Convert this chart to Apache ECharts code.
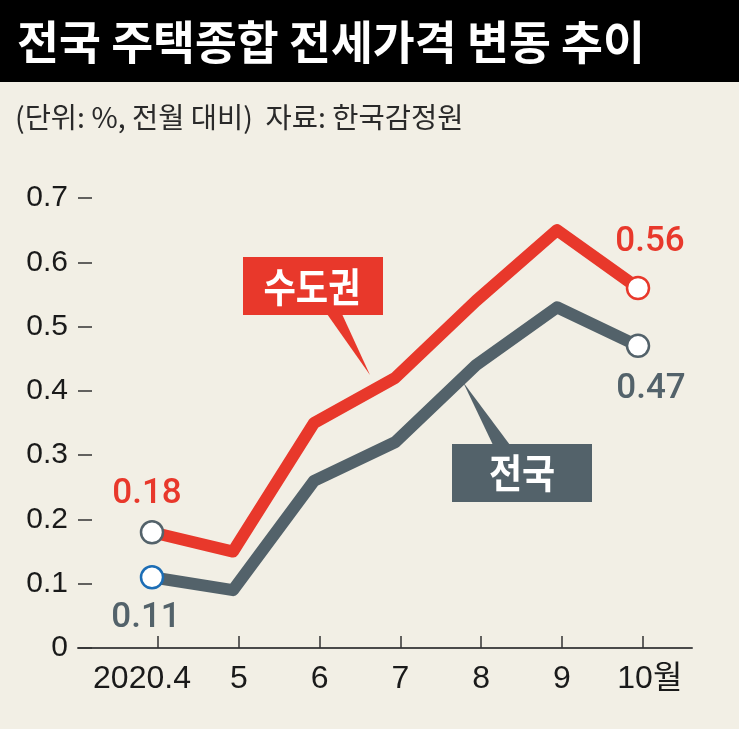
<!DOCTYPE html>
<html>
<head>
<meta charset="utf-8">
<script src="https://cdn.jsdelivr.net/npm/echarts@6/dist/echarts.min.js"></script>
<style>
html,body{margin:0;padding:0;background:#f2efe5;}
#chart{width:739px;height:729px;}
</style>
</head>
<body>
<div id="chart"></div>
<script>
// ---- data ----
var months = ['2020.4', '5', '6', '7', '8', '9', '10월'];
var capitalArea = [0.18, 0.15, 0.35, 0.42, 0.54, 0.65, 0.56];   // 수도권
var nationwide  = [0.11, 0.09, 0.26, 0.32, 0.44, 0.53, 0.47];   // 전국
var yTicks = [0, 0.1, 0.2, 0.3, 0.4, 0.5, 0.6, 0.7];

var RED = '#e8382b', GRAY = '#53626a', BLUE = '#1c6db5';
var NUM_FONT = '"Liberation Sans", Arial, sans-serif';

function buildData(values, color, ends) {
  return values.map(function (v, i) {
    var e = ends[i];
    if (!e) return { value: v, symbol: 'none' };
    return {
      value: v,
      symbol: 'circle',
      symbolSize: 22,
      itemStyle: { color: '#ffffff', borderColor: e.border, borderWidth: 2.5 },
      label: {
        show: true,
        position: e.pos,
        distance: e.dist,
        offset: e.off,
        formatter: String(v),
        color: color,
        fontFamily: 'Roboto',
        fontWeight: 500,
        fontSize: 35
      }
    };
  });
}

var redEnds = {0: {border: GRAY, pos: 'top', dist: 8, off: [-5, 0]},
               6: {border: RED, pos: 'top', dist: 16, off: [12, 0]}};
var grayEnds = {0: {border: BLUE, pos: 'bottom', dist: 11, off: [-6, 0]},
                6: {border: GRAY, pos: 'bottom', dist: 14, off: [13, 0]}};

var labelText = {color: '#1a1a1a', fontFamily: NUM_FONT + ', "Noto Sans CJK KR"', fontSize: 32};

var chart = echarts.init(document.getElementById('chart'));
var option = {
  backgroundColor: '#f2efe5',
  animation: false,
  grid: [
    {left: 111.5, right: 60.5, top: 198, bottom: 81},   // series
    {left: 78, right: 47, top: 198, bottom: 81},        // axis line + y ticks
    {left: 117.6, right: 55.8, top: 198, bottom: 81}    // x ticks + labels
  ],
  xAxis: [
    {type: 'category', gridIndex: 0, data: months, boundaryGap: true, show: false},
    {
      type: 'value', gridIndex: 1, min: 0, max: 1,
      axisLine: {show: true, lineStyle: {color: '#4a4a4a', width: 2}},
      axisTick: {show: false}, axisLabel: {show: false}, splitLine: {show: false}
    },
    {
      type: 'category', gridIndex: 2, data: months, boundaryGap: true,
      axisLine: {show: true, lineStyle: {color: 'rgba(0,0,0,0)'}},
      axisTick: {show: true, inside: true, length: 12, alignWithLabel: true, interval: 0, lineStyle: {color: '#333', width: 1.5}},
      axisLabel: {
        interval: 0, margin: 15,
        color: labelText.color, fontFamily: labelText.fontFamily, fontSize: labelText.fontSize,
        formatter: function (v, i) {
          if (i === 0) return '{l|' + v + '}';
          if (i === months.length - 1) return '{r|' + v + '}';
          return v;
        },
        rich: {
          l: {color: labelText.color, fontFamily: labelText.fontFamily, fontSize: labelText.fontSize, padding: [0, 32, 0, 0]},
          r: {color: labelText.color, fontFamily: labelText.fontFamily, fontSize: labelText.fontSize, padding: [0, 0, 0, 14]}
        }
      },
      splitLine: {show: false}
    }
  ],
  yAxis: [
    {type: 'value', gridIndex: 0, min: 0, max: 0.7, interval: 0.1, show: false},
    {
      type: 'value', gridIndex: 1, min: 0, max: 0.7, interval: 0.1,
      axisLine: {show: false},
      axisTick: {show: true, inside: true, length: 14, lineStyle: {color: '#333', width: 1.5}},
      axisLabel: {
        color: '#1a1a1a', fontFamily: NUM_FONT, fontSize: 30, margin: 10,
        formatter: function (v) {
          var m = yTicks.filter(function (t) { return Math.abs(t - v) < 1e-6; });
          return m.length ? String(m[0]) : '';
        }
      },
      splitLine: {show: false}
    },
    {type: 'value', gridIndex: 2, min: 0, max: 0.7, interval: 0.1, show: false}
  ],
  series: [
    {
      name: '수도권', type: 'line', xAxisIndex: 0, yAxisIndex: 0,
      color: RED, showSymbol: true, showAllSymbol: true, z: 3,
      lineStyle: {color: RED, width: 12, cap: 'round', join: 'round'},
      data: buildData(capitalArea, RED, redEnds)
    },
    {
      name: '전국', type: 'line', xAxisIndex: 0, yAxisIndex: 0,
      color: GRAY, showSymbol: true, showAllSymbol: true, z: 2,
      lineStyle: {color: GRAY, width: 12, cap: 'round', join: 'round'},
      data: buildData(nationwide, GRAY, grayEnds)
    }
  ],
  graphic: [
    {type: 'rect', shape: {x: 0, y: 0, width: 739, height: 82}, style: {fill: '#000'}, z: 0},
    {type: 'text', x: 17, y: 42, scaleX: 0.99,
     style: {text: '전국 주택종합 전세가격 변동 추이', fill: '#fff', fontFamily: '"Noto Sans CJK KR"', fontWeight: 'bold', fontSize: 46, verticalAlign: 'middle', align: 'left'}},
    {type: 'text', x: 15, y: 117,
     style: {text: '(단위: %, 전월 대비)  자료: 한국감정원', fill: '#2a2a2a', fontFamily: '"Noto Sans CJK KR"', fontSize: 28.5, verticalAlign: 'middle', align: 'left'}},
    // 수도권 callout
    {type: 'rect', shape: {x: 243, y: 257, width: 140, height: 58}, style: {fill: RED}, z: 5},
    {type: 'polygon', shape: {points: [[327, 314], [342, 314], [370, 375]]}, style: {fill: RED}, z: 5},
    {type: 'text', x: 312, y: 287, scaleX: 0.88, z: 6,
     style: {text: '수도권', fill: '#fff', fontFamily: '"Noto Sans CJK KR"', fontWeight: 'bold', fontSize: 40, align: 'center', verticalAlign: 'middle'}},
    // 전국 callout
    {type: 'rect', shape: {x: 452, y: 444, width: 140, height: 58}, style: {fill: GRAY}, z: 5},
    {type: 'polygon', shape: {points: [[493, 445], [510, 445], [463, 382]]}, style: {fill: GRAY}, z: 1},
    {type: 'text', x: 522, y: 473, scaleX: 0.9, z: 6,
     style: {text: '전국', fill: '#fff', fontFamily: '"Noto Sans CJK KR"', fontWeight: 'bold', fontSize: 40, align: 'center', verticalAlign: 'middle'}}
  ]
};
chart.setOption(option);
</script>
</body>
</html>
